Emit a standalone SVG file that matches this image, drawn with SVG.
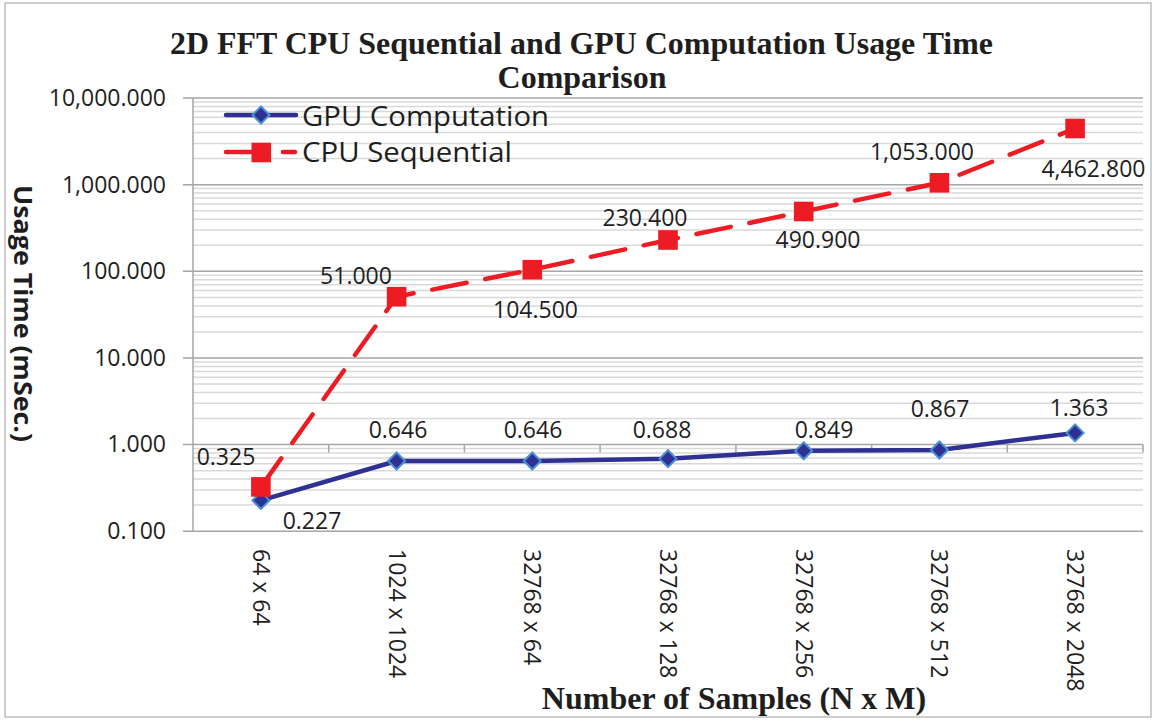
<svg xmlns="http://www.w3.org/2000/svg" width="1157" height="721" viewBox="0 0 1157 721">
<style>
.lbl{font-family:"Open Sans","Liberation Sans",sans-serif;font-size:23px;fill:#1e1e1e}
.leg{font-family:"Open Sans","Liberation Sans",sans-serif;font-size:27px;fill:#1e1e1e}
.ttl{font-family:"Liberation Serif","Times New Roman",serif;font-size:32px;font-weight:bold;fill:#1e1e1e}
.ytl{font-family:"Open Sans","Liberation Sans",sans-serif;font-size:25px;font-weight:bold;fill:#1e1e1e}
.minor{stroke:#d9d9d9;stroke-width:1.5;fill:none}
.major{stroke:#a6a6a6;stroke-width:1.5;fill:none}
.gpu{stroke:#2e3192;stroke-width:4.5;fill:none;stroke-linejoin:round;stroke-linecap:round}
.cpu{stroke:#ed1c24;stroke-width:4.5;fill:none;stroke-linecap:round;stroke-dasharray:35 19}
.dia{fill:#2e3192;stroke:#4a8fd4;stroke-width:2}
.sq{fill:#ed1c24}
</style>
<defs>
<path id="diamond" d="M0 -8.5L8.5 0L0 8.5L-8.5 0Z" class="dia"/>
<rect id="square" x="-9.8" y="-9.8" width="19.6" height="19.6" class="sq"/>
</defs>
<rect x="5" y="3" width="1146" height="714" fill="#ffffff" stroke="#bfbfbf" stroke-width="1.5"/>
<g id="title">
<text class="ttl" x="581.5" y="54" text-anchor="middle" textLength="823" lengthAdjust="spacingAndGlyphs">2D FFT CPU Sequential and GPU Computation Usage Time</text>
<text class="ttl" x="582" y="88" text-anchor="middle">Comparison</text>
</g>
<g id="grid">
<path class="minor" d="M193 505.1H1143M193 489.9H1143M193 479.1H1143M193 470.7H1143M193 463.8H1143M193 458H1143M193 453H1143M193 448.5H1143M193 418.5H1143M193 403.3H1143M193 392.5H1143M193 384.1H1143M193 377.2H1143M193 371.4H1143M193 366.4H1143M193 361.9H1143M193 331.9H1143M193 316.7H1143M193 305.9H1143M193 297.5H1143M193 290.6H1143M193 284.8H1143M193 279.8H1143M193 275.3H1143M193 245.2H1143M193 230H1143M193 219.2H1143M193 210.8H1143M193 203.9H1143M193 198.1H1143M193 193.1H1143M193 188.6H1143M193 158.6H1143M193 143.4H1143M193 132.6H1143M193 124.2H1143M193 117.3H1143M193 111.5H1143M193 106.5H1143M193 102H1143"/>
<path class="major" d="M183 98.1H1143M183 184.7H1143M183 271.3H1143M183 358H1143M183 444.6H1143M183 531.2H1143"/>
<path class="major" d="M193 98.1V531.2"/>
<path class="major" d="M328.7 444.6V452.6M464.4 444.6V452.6M600.1 444.6V452.6M735.9 444.6V452.6M871.6 444.6V452.6M1007.3 444.6V452.6M1143 444.6V452.6"/>
</g>
<g id="y-axis-labels" class="lbl" text-anchor="end">
<text x="166" y="106">10,000.000</text>
<text x="166" y="192.5">1,000.000</text>
<text x="166" y="279">100.000</text>
<text x="166" y="365.5">10.000</text>
<text x="166" y="452">1.000</text>
<text x="166" y="538.5">0.100</text>
</g>
<g id="y-axis-title">
<text class="ytl" transform="translate(14,185) rotate(90)" x="0" y="0" textLength="257" lengthAdjust="spacingAndGlyphs">Usage Time (mSec.)</text>
</g>
<g id="x-axis-labels" class="lbl">
<text transform="translate(260.9,549) rotate(90)" x="0" y="8">64 x 64</text>
<text transform="translate(396.6,549) rotate(90)" x="0" y="8">1024 x 1024</text>
<text transform="translate(532.3,549) rotate(90)" x="0" y="8">32768 x 64</text>
<text transform="translate(668,549) rotate(90)" x="0" y="8">32768 x 128</text>
<text transform="translate(803.7,549) rotate(90)" x="0" y="8">32768 x 256</text>
<text transform="translate(939.4,549) rotate(90)" x="0" y="8">32768 x 512</text>
<text transform="translate(1075.1,549) rotate(90)" x="0" y="8">32768 x 2048</text>
</g>
<g id="x-axis-title">
<text class="ttl" x="734" y="709" text-anchor="middle">Number of Samples (N x M)</text>
</g>
<g id="connectors">
<polyline id="cpu-line" class="cpu" points="260.9,486.9 396.6,296.7 532.3,269.7 668,240 803.7,211.5 939.4,182.8 1075.1,128.5"/>
<polyline id="gpu-line" class="gpu" points="260.9,500.4 396.6,461 532.3,461 668,458.7 803.7,450.8 939.4,450 1075.1,432.9"/>
</g>
<g id="gpu-series">
<use href="#diamond" x="260.9" y="500.4"/>
<use href="#diamond" x="396.6" y="461"/>
<use href="#diamond" x="532.3" y="461"/>
<use href="#diamond" x="668" y="458.7"/>
<use href="#diamond" x="803.7" y="450.8"/>
<use href="#diamond" x="939.4" y="450"/>
<use href="#diamond" x="1075.1" y="432.9"/>
</g>
<g id="cpu-series">
<use href="#square" x="260.9" y="486.9"/>
<use href="#square" x="396.6" y="296.7"/>
<use href="#square" x="532.3" y="269.7"/>
<use href="#square" x="668" y="240"/>
<use href="#square" x="803.7" y="211.5"/>
<use href="#square" x="939.4" y="182.8"/>
<use href="#square" x="1075.1" y="128.5"/>
</g>
<g id="gpu-labels" class="lbl" text-anchor="middle">
<text x="312" y="528.5">0.227</text>
<text x="398" y="438">0.646</text>
<text x="533" y="438">0.646</text>
<text x="662" y="438">0.688</text>
<text x="824" y="438">0.849</text>
<text x="940" y="417">0.867</text>
<text x="1079" y="416">1.363</text>
</g>
<g id="cpu-labels" class="lbl" text-anchor="middle">
<text x="226" y="465">0.325</text>
<text x="356" y="284">51.000</text>
<text x="535.5" y="317.5">104.500</text>
<text x="645" y="226">230.400</text>
<text x="818" y="248">490.900</text>
<text x="922" y="160">1,053.000</text>
<text x="1093.5" y="177">4,462.800</text>
</g>
<g id="legend">
<path class="gpu" d="M226 115H296"/>
<use href="#diamond" x="261" y="115"/>
<text class="leg" x="302" y="125.5" textLength="247" lengthAdjust="spacingAndGlyphs">GPU Computation</text>
<path d="M226 152H251M283 152H295" stroke="#ed1c24" stroke-width="4.5" stroke-linecap="round"/>
<use href="#square" x="261.3" y="152.5"/>
<text class="leg" x="302" y="161.5" textLength="210" lengthAdjust="spacingAndGlyphs">CPU Sequential</text>
</g>
</svg>
